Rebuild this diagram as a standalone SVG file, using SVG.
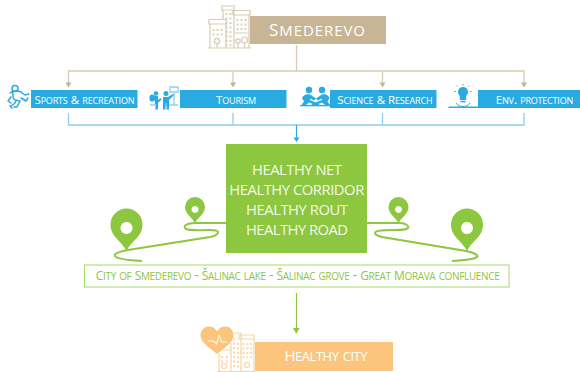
<svg xmlns="http://www.w3.org/2000/svg" width="580" height="372" viewBox="0 0 580 372">
<style>
text{font-family:"Open Sans","Liberation Sans",sans-serif;text-anchor:middle}
.sc{font-variant:small-caps}
.blue{fill:#29abe2}
.lab{fill:#fff;font-size:13.200px}
.lab .c{font-size:11.500px}
.tan{fill:none;stroke:#d9ccb6;stroke-width:1.300}
.ln{fill:none;stroke:#8cd0ee;stroke-width:1.300}
.road{fill:none;stroke:#8dc63f;stroke-width:2}
.pin{fill:#8dc63f}
.bi{fill:none;stroke:#d9cbb3;stroke-width:1.200}
.bw{fill:none;stroke:#d9cbb3;stroke-width:1.800;stroke-dasharray:2 2.500}
.oi{fill:none;stroke:#fcd3a0;stroke-width:1.200}
.ow{fill:none;stroke:#fcd3a0;stroke-width:1.800;stroke-dasharray:2 2.500}
.bf{fill:#29abe2}
.bs{fill:none;stroke:#29abe2;stroke-width:1.500;stroke-linecap:round;stroke-linejoin:round}
</style>
<g id="connectors">
<path class="tan" d="M296.500 45V71M68.500 85V71H524V85M233 71V85M382.500 71V85"/>
<path d="M65.500 82.500h6l-3 5zM230 82.500h6l-3 5zM379.500 82.500h6l-3 5zM521 82.500h6l-3 5z" fill="#c4b497"/>
<path class="ln" d="M68.500 113V125H524V113M233 113V125M382.500 113V125"/>
<path d="M296.500 125V138" fill="none" stroke="#29abe2" stroke-width="1.200"/>
<path d="M293.500 137.500h6l-3 4.500z" fill="#29abe2"/>
<path d="M296.500 293V329" fill="none" stroke="#8dc63f" stroke-width="1.200"/>
<path d="M293 328h6.500l-3.200 6z" fill="#8dc63f"/>
</g>
<g id="smederevo">
<rect x="250" y="16" width="136" height="28" fill="#c7b595"/>
<rect x="233" y="10" width="17" height="38" fill="#fff"/>
<g class="bi">
<path d="M208 48H251M210 48V24H226V48M209 19.500h17v4.500h-17zM223 19.500V10H234V48M222 6h12v4h-12zM234 15H249V48M233 10.500h17v4.500h-17z"/>
<path d="M235 33H249" stroke-width="1"/>
<circle cx="217" cy="41" r="2.600"/><path d="M217 44V48"/><circle cx="238" cy="41" r="2.200"/><path d="M238 43V48"/><circle cx="244.500" cy="40" r="3"/><path d="M244.500 43V48"/>
</g>
<path class="bw" d="M213.500 29V37M217.500 29V37M221.500 29V37M226.500 13V46M230.500 13V46M237.500 19V31M241.500 19V31M245.500 19V31"/>
<text class="sc" x="317" y="36" font-size="21" fill="#fff" textLength="96" lengthAdjust="spacing"><tspan font-size="17">S</tspan>mederevo</text>
</g>
<g id="sports">
<rect class="blue" x="31" y="90" width="106.500" height="18"/>
<g class="bs"><circle cx="15" cy="88.500" r="3"/><path d="M10 93C13 90 19 91 21 92L25 95L29 94M13 92C13 96 12 98 15 100L20 101L17 107H14M11 97L8 101L11 103M16 100C16 104 11 106 10 106L12 108M21 98L26 101L28 98"/></g>
<text class="sc lab" x="84.500" y="104" textLength="100" lengthAdjust="spacing"><tspan class="c">S</tspan>ports <tspan class="c">&amp;</tspan> recreation</text>
</g>
<g id="tourism">
<rect class="blue" x="180" y="90" width="106.500" height="18"/>
<path class="ln" d="M150 105H155M164 105H178M174 93V105M170 87H178V92H170Z" stroke-width="1"/>
<g class="bf"><rect x="149.500" y="94.500" width="5.500" height="7" rx="2.500"/><circle cx="156" cy="93.500" r="2.200"/><path d="M155 96H158V100L161 98L161.500 99.500L158 103V109.500H155.500V104H155Z"/><circle cx="166" cy="93.500" r="2.500"/><path d="M163 97H168L173 94L174 95L169 100V109.500H166.500V103.500H165.500V109.500H163Z"/></g>
<text class="sc lab" x="236" y="104" textLength="40" lengthAdjust="spacing"><tspan class="c">T</tspan>ourism</text>
</g>
<g id="science">
<rect class="blue" x="330" y="90" width="106.500" height="18"/>
<g class="bf"><circle cx="309" cy="90" r="3.200"/><circle cx="322" cy="90" r="3.200"/>
<path d="M302 98C303 95 307 93.500 310 94.500L316 98.500L314 100.500L310 98.500L310 100L317 103L320 105H315L309 102.500L306 105H301.500L304 101.500Z"/>
<path d="M329.500 98C328.500 95 325 93.500 322 94.500L316 98.500L318 100.500L322 98.500L322 100L314 103L311 105H316L322 102.500L325 105H330L327.500 101.500Z"/>
<rect x="300" y="105" width="30" height="1.300"/></g>
<text class="sc lab" x="385" y="103.500" textLength="95.500" lengthAdjust="spacing"><tspan class="c">S</tspan>cience <tspan class="c">&amp; R</tspan>esearch</text>
</g>
<g id="env">
<rect class="blue" x="478" y="90" width="102" height="18"/>
<g class="bf"><path d="M463 87a5 5 0 0 1 3.200 8.800V100h-6.400V95.800A5 5 0 0 1 463 87Z"/><rect x="460.500" y="100.800" width="5" height="1.500"/></g>
<path class="bs" d="M449 107.300H478" stroke-width="1"/>
<path d="M456 103C458 106 461 106.500 463 106.500C465 106.500 468 106 470 103" fill="none" stroke="#29abe2"/>
<path d="M463 84V85.500M456.500 85.500L457.500 86.500M469.500 85.500L468.500 86.500M454.500 91.500H456M470 91.500H471.500" stroke="#29abe2" fill="none"/>
<text class="sc lab" x="534.500" y="103.500" textLength="77.500" lengthAdjust="spacing"><tspan class="c">E</tspan>nv. protection</text>
</g>
<g id="healthy-net">
<path class="road" d="M226 223H195C187 223 182 226 186 229C192 232 218 228 218 232C218 235 215 236 210 237L128 250C118 252 112 254 116 257C121 260 132 260 142 261"/>
<path class="road" d="M367 223H400C406 223 409 226 408 228C406 230 403 230 395 230C385 230 375 230 375 233C375 235 378 236 382 237L466 251C474 253 479 255 477 257C474 260 462 260 452 261"/>
<rect x="226" y="144" width="141" height="109" fill="#8dc63f"/>
<g font-size="14.800" fill="#f4f9ea"><text x="297" y="175" textLength="90" lengthAdjust="spacing">HEALTHY NET</text><text x="296.800" y="195" textLength="135" lengthAdjust="spacing">HEALTHY CORRIDOR</text><text x="297" y="215" textLength="102" lengthAdjust="spacing">HEALTHY ROUT</text><text x="297" y="235" textLength="102" lengthAdjust="spacing">HEALTHY ROAD</text></g>
</g>
<g id="pin-1"><path class="pin" fill-rule="evenodd" d="M126.500 251C122 241 110.500 237 110.500 224.500a16 16 0 0 1 32 0C142.500 237 131 241 126.500 251ZM126.500 222a6 6 0 1 0 .01 0Z"/></g>
<g id="pin-2"><path class="pin" fill-rule="evenodd" d="M195 223C192 217 185 214 185 207a10 10 0 0 1 20 0C205 214 198 217 195 223ZM195 206a3.500 3.500 0 1 0 .01 0Z"/></g>
<g id="pin-3"><path class="pin" fill-rule="evenodd" d="M398.500 223C395.500 217 388.500 214 388.500 207a10 10 0 0 1 20 0C408.500 214 401.500 217 398.500 223ZM398.500 206a3.500 3.500 0 1 0 .01 0Z"/></g>
<g id="pin-4"><path class="pin" fill-rule="evenodd" d="M467 251C462.500 241 451 237 451 224.500a16 16 0 0 1 32 0C483 237 471.500 241 467 251ZM467 222a6 6 0 1 0 .01 0Z"/></g>
<g id="route">
<rect x="84.500" y="265" width="424.500" height="22" fill="#fff" stroke="#a9d86e" stroke-width="1"/>
<text class="sc" x="297.800" y="279.500" font-size="14" fill="#8dc63f" textLength="404" lengthAdjust="spacing"><tspan font-size="12">C</tspan>ity of <tspan font-size="12">S</tspan>mederevo - <tspan font-size="12">Š</tspan>alinac lake - <tspan font-size="12">Š</tspan>alinac grove - <tspan font-size="12">G</tspan>reat <tspan font-size="12">M</tspan>orava confluence</text>
</g>
<g id="healthy-city">
<rect x="253" y="342" width="140" height="29" fill="#fbc57e"/>
<rect x="238" y="335" width="17" height="37" fill="#fff"/>
<g class="oi"><path d="M217 371.500H255M219 371.500V350H231V371.500M231 371.500V333H241V371.500M240 339H254V371.500M239 335h15v4h-15z"/><circle cx="247" cy="365" r="2.500"/><circle cx="224" cy="366" r="2.500"/></g>
<path class="ow" d="M222 356V364M227 356V364M234 338V368M238 343V368M243.500 343V358M247.500 343V358M251 343V358"/>
<path d="M217 354.500C209 348 200 342 200 335.500C200 330 204 326 209 326C213 326 215.500 328 217 331C218.500 328 221 326 225 326C230 326 234 330 234 335.500C234 342 225 348 217 354.500Z" fill="#fbc57e" stroke="#fff" stroke-width="1"/>
<path d="M208 341H214L216.500 344.500L219 335L221.500 342H227" fill="none" stroke="#fff" stroke-width="1"/>
<text class="sc" x="326" y="361" font-size="18" fill="#fff" textLength="83" lengthAdjust="spacing"><tspan font-size="15">H</tspan>ealthy city</text>
</g>
</svg>
